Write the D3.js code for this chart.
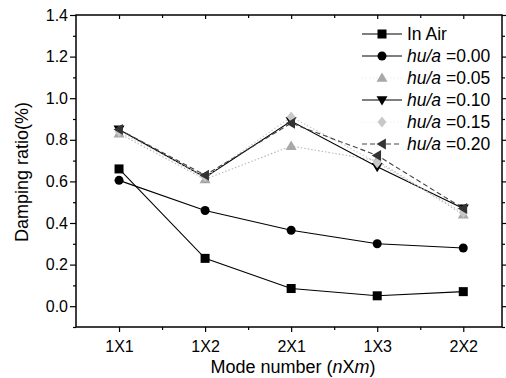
<!DOCTYPE html>
<html>
<head>
<meta charset="utf-8">
<script src="https://cdn.jsdelivr.net/npm/d3@7"></script>
<style>
  body { margin: 0; background: #fff; }
  svg text { font-family: "Liberation Sans", Arial, sans-serif; fill: #000; }
</style>
</head>
<body>
<div id="chart"></div>
<script>
// data
const modes = ['1X1', '1X2', '2X1', '1X3', '2X2'];
const inAir = [0.66, 0.23, 0.085, 0.05, 0.07];
const hu000 = [0.605, 0.46, 0.365, 0.30, 0.28];
const hu005 = [0.83, 0.61, 0.77, 0.70, 0.44];
const hu010 = [0.85, 0.62, 0.89, 0.67, 0.47];
const hu015 = [0.84, 0.62, 0.91, 0.69, 0.45];
const hu020 = [0.85, 0.63, 0.88, 0.725, 0.47];
const yTicks = [0.0, 0.2, 0.4, 0.6, 0.8, 1.0, 1.2, 1.4];

const series = [
  { label: 'In Air', hu: null, values: inAir, color: '#000', dash: null, marker: 'square', mcolor: '#000', legLine: '#000' },
  { label: '=0.00', hu: true, values: hu000, color: '#000', dash: null, marker: 'circle', mcolor: '#000', legLine: '#000' },
  { label: '=0.05', hu: true, values: hu005, color: '#b8b8b8', dash: '1.5,2', marker: 'up', mcolor: '#a8a8a8', legLine: '#ececec' },
  { label: '=0.10', hu: true, values: hu010, color: '#000', dash: null, marker: 'down', mcolor: '#000', legLine: '#000' },
  { label: '=0.15', hu: true, values: hu015, color: '#cacaca', dash: '1.5,2', marker: 'diamond', mcolor: '#c8c8c8', legLine: '#f0f0f0' },
  { label: '=0.20', hu: true, values: hu020, color: '#444', dash: '5,3', marker: 'left', mcolor: '#333', legLine: '#444' }
];

const W = 506, H = 378;
const mLeft = 76, mRight = 502, mTop = 15, mBottom = 327;

const svg = d3.select('#chart').append('svg')
  .attr('width', W).attr('height', H);

const x = d3.scaleLinear().domain([0.5, 5.45]).range([mLeft, mRight]);
const y = d3.scaleLinear().domain([-0.1, 1.4]).range([mBottom, mTop]);

// axes
const xMajor = d3.range(1, 6);
const xMinor = d3.range(1.5, 5.5, 1);
const yMinor = d3.range(-0.1, 1.41, 0.2);

svg.append('g').attr('transform', `translate(0,${mBottom})`)
  .call(d3.axisBottom(x).tickValues(xMajor).tickSize(5).tickFormat((d, i) => modes[i]))
  .call(g => g.select('.domain').remove())
  .call(g => g.selectAll('text').attr('font-size', 16).attr('dy', '1.05em'));
svg.append('g').attr('transform', `translate(0,${mBottom})`)
  .call(d3.axisBottom(x).tickValues(xMinor).tickSize(3).tickFormat(''))
  .call(g => g.select('.domain').remove());

svg.append('g').attr('transform', `translate(${mLeft},0)`)
  .call(d3.axisLeft(y).tickValues(yTicks).tickSize(6).tickFormat(d3.format('.1f')))
  .call(g => g.select('.domain').remove())
  .call(g => g.selectAll('text').attr('font-size', 16).attr('x', -8));
svg.append('g').attr('transform', `translate(${mLeft},0)`)
  .call(d3.axisLeft(y).tickValues(yMinor).tickSize(3).tickFormat(''))
  .call(g => g.select('.domain').remove());

// mirrored ticks
svg.append('g').attr('transform', `translate(${mRight},0)`)
  .call(d3.axisRight(y).tickValues(yTicks).tickSize(5).tickFormat(''))
  .call(g => g.select('.domain').remove());
svg.append('g').attr('transform', `translate(${mRight},0)`)
  .call(d3.axisRight(y).tickValues(yMinor).tickSize(3).tickFormat(''))
  .call(g => g.select('.domain').remove());
svg.append('g').attr('transform', `translate(0,${mTop})`)
  .call(d3.axisBottom(x).tickValues(xMajor).tickSize(4).tickFormat(''))
  .call(g => g.select('.domain').remove());
svg.append('g').attr('transform', `translate(0,${mTop})`)
  .call(d3.axisBottom(x).tickValues(xMinor).tickSize(3).tickFormat(''))
  .call(g => g.select('.domain').remove());

svg.selectAll('.tick line').attr('stroke', '#000').attr('stroke-width', 1.2);

svg.append('rect')
  .attr('x', mLeft).attr('y', mTop)
  .attr('width', mRight - mLeft).attr('height', mBottom - mTop)
  .attr('fill', 'none').attr('stroke', '#000').attr('stroke-width', 1.5);

// titles
svg.append('text')
  .attr('transform', `translate(28,172) rotate(-90)`)
  .attr('text-anchor', 'middle').attr('font-size', 18)
  .text('Damping ratio(%)');

const xt = svg.append('text')
  .attr('x', (mLeft + mRight) / 2 + 4).attr('y', 373)
  .attr('text-anchor', 'middle').attr('font-size', 18);
xt.append('tspan').text('Mode number (');
xt.append('tspan').attr('font-style', 'italic').text('n');
xt.append('tspan').text('X');
xt.append('tspan').attr('font-style', 'italic').text('m');
xt.append('tspan').text(')');

// markers
function drawMarker(g, type, cx, cy, color) {
  const s = 4.5;
  if (type === 'square') {
    g.append('rect').attr('x', cx - s).attr('y', cy - s).attr('width', 2 * s).attr('height', 2 * s).attr('fill', color);
  } else if (type === 'circle') {
    g.append('circle').attr('cx', cx).attr('cy', cy).attr('r', s).attr('fill', color);
  } else {
    let pts;
    const r = 5.5;
    if (type === 'up') pts = [[cx, cy - r], [cx + r, cy + r * 0.7], [cx - r, cy + r * 0.7]];
    if (type === 'down') pts = [[cx, cy + r], [cx + r, cy - r * 0.7], [cx - r, cy - r * 0.7]];
    if (type === 'left') pts = [[cx - r, cy], [cx + r * 0.7, cy - r], [cx + r * 0.7, cy + r]];
    if (type === 'diamond') pts = [[cx, cy - r], [cx + r * 0.8, cy], [cx, cy + r], [cx - r * 0.8, cy]];
    g.append('polygon').attr('points', pts.map(p => p.join(',')).join(' ')).attr('fill', color);
  }
}

const line = d3.line().x((d, i) => x(i + 1)).y(d => y(d));

series.forEach(s => {
  const g = svg.append('g');
  g.append('path').datum(s.values)
    .attr('d', line).attr('fill', 'none')
    .attr('stroke', s.color).attr('stroke-width', 1.1)
    .attr('stroke-dasharray', s.dash);
  s.values.forEach((v, i) => drawMarker(g, s.marker, x(i + 1), y(v), s.mcolor));
});

// legend
const lx = 362, ly = 34, lstep = 22;
series.forEach((s, i) => {
  const g = svg.append('g');
  const yy = ly + i * lstep;
  g.append('line').attr('x1', lx).attr('x2', lx + 40).attr('y1', yy).attr('y2', yy)
    .attr('stroke', s.legLine).attr('stroke-width', 1.1).attr('stroke-dasharray', s.dash);
  drawMarker(g, s.marker, lx + 20, yy, s.mcolor);
  const t = g.append('text').attr('x', lx + 45).attr('y', yy + 6).attr('font-size', 17.5);
  if (s.hu) {
    t.append('tspan').attr('font-style', 'italic').text('hu/a ');
    t.append('tspan').text(s.label);
  } else {
    t.text(s.label);
  }
});
</script>
</body>
</html>
